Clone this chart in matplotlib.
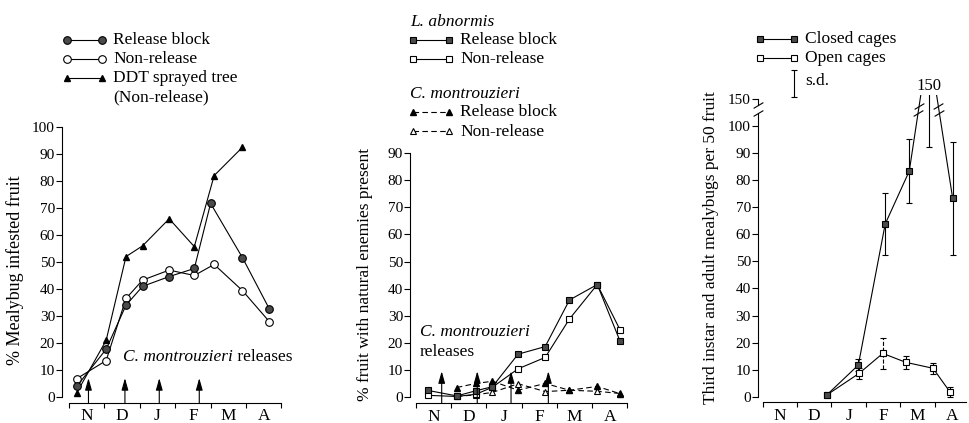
import numpy as np
import matplotlib.pyplot as plt

plt.rcParams['font.family'] = ['Liberation Serif', 'DejaVu Serif']
plt.rcParams['font.size'] = 12
plt.rcParams['axes.linewidth'] = 0.8

W, H = 969, 423
months = ['N', 'D', 'J', 'F', 'M', 'A']

# === panel 1: % mealybug infested fruit (x = months since 1 Nov) ===
p1_x = [0.22, 1.05, 1.61, 2.08, 2.83, 3.54, 4.00, 4.90, 5.66]
p1_x_non = [0.22, 1.05, 1.61, 2.08, 2.83, 3.54, 4.10, 4.90, 5.66]
p1_release = [4.0, 17.7, 34.0, 41.0, 44.6, 47.6, 71.7, 51.6, 32.6]
p1_nonrelease = [6.8, 13.5, 36.5, 43.3, 47.0, 45.0, 49.1, 39.4, 27.9]
p1_ddt_x = [0.22, 1.05, 1.61, 2.08, 2.83, 3.54, 4.10, 4.90]
p1_ddt = [1.6, 21.0, 52.0, 56.0, 66.0, 55.7, 82.0, 92.5]
p1_release_dates = [0.55, 1.58, 2.55, 3.68]

# === panel 2: % fruit with natural enemies ===
p2_x = [0.35, 1.16, 1.70, 2.17, 2.90, 3.67, 4.36, 5.15, 5.80]
p2_labn_rel = [2.4, 0.4, 2.3, 3.8, 15.8, 18.6, 35.8, 41.5, 20.5]
p2_labn_non = [0.6, 0.2, 1.0, 3.6, 10.4, 14.6, 28.8, 41.5, 24.7]
p2_cm_x = [1.16, 1.70, 2.17, 2.90, 3.67, 4.36, 5.15, 5.80]
p2_cm_rel = [3.5, 5.0, 5.8, 2.5, 5.0, 2.5, 3.9, 1.2]
p2_cm_non = [0.2, 0.8, 1.7, 4.9, 2.0, 2.5, 2.1, 1.3]
p2_release_dates = [0.73, 1.74, 2.70, 3.76]

# === panel 3: mealybugs per 50 fruit in cages ===
p3_closed_x = [1.86, 2.78, 3.56, 4.26, 4.82, 5.52]
p3_closed = [0.6, 11.7, 63.8, 83.4, 150.0, 73.3]
p3_closed_sd = [0, 2.1, 11.4, 11.8, 57.6, 21.0]
p3_open_x = [1.86, 2.80, 3.49, 4.16, 4.95, 5.45]
p3_open = [0.6, 8.6, 16.0, 12.7, 10.5, 1.6]
p3_open_sd = [0, 2.0, 5.6, 2.3, 2.1, 1.8]

FILL = '#4a4a4a'
LW = 0.8


def brk(v, k=0.61):
    # values above 100 are squeezed (broken axis)
    v = np.asarray(v, float)
    return np.where(v <= 100, v, 100 + (v - 100) * k)


fig = plt.figure(figsize=(W / 100, H / 100), dpi=100)

# overlay in pixel coords for legends and axis titles
ov = fig.add_axes([0, 0, 1, 1])
ov.set_xlim(0, W)
ov.set_ylim(H, 0)
ov.axis('off')


def panel(x0, pxm, y0, pyu, xlim, ylim, ymax_tick):
    left = x0 + xlim[0] * pxm
    right = x0 + xlim[1] * pxm
    top = y0 - ylim[1] * pyu
    bottom = y0 - ylim[0] * pyu
    ax = fig.add_axes([left / W, 1 - bottom / H, (right - left) / W, (bottom - top) / H])
    ax.set_xlim(xlim)
    ax.set_ylim(ylim)
    ax.patch.set_visible(False)
    for s in ['top', 'right']:
        ax.spines[s].set_visible(False)
    ax.spines['bottom'].set_bounds(0, min(6, xlim[1]))
    ax.spines['left'].set_bounds(0, ymax_tick)
    ax.set_xticks(range(7))
    ax.set_xticklabels([])
    ax.set_xticks(np.arange(6) + 0.5, minor=True)
    ax.set_xticklabels(months, minor=True)
    ax.tick_params(axis='x', which='major', direction='out', length=3.5, width=LW)
    ax.tick_params(axis='x', which='minor', length=0, pad=4, labelsize=12.5)
    ax.tick_params(axis='y', direction='out', length=4, width=LW, pad=1, labelsize=11)
    ax.set_yticks(np.arange(0, ymax_tick + 1, 10))
    return ax


def release_arrows(ax, xs, top):
    for x in xs:
        ax.annotate('', xy=(x, top), xytext=(x, ax.get_ylim()[0]),
                    arrowprops=dict(arrowstyle='-|>,head_length=0.6,head_width=0.17',
                                    color='k', lw=LW, shrinkA=0, shrinkB=0),
                    annotation_clip=False)


# ---------- panel 1 ----------
ax1 = panel(69, 35.4, 397, 2.7, (-0.2, 6.05), (-2.2, 101), 100)
ax1.plot(p1_ddt_x, p1_ddt, '-^', color='k', lw=LW, ms=5, mfc='k', clip_on=False)
ax1.plot(p1_x_non, p1_nonrelease, '-o', color='k', lw=LW, ms=5.5, mfc='white', mec='k', mew=0.8)
ax1.plot(p1_x, p1_release, '-o', color='k', lw=LW, ms=5.5, mfc=FILL, mec='k', mew=0.8)
release_arrows(ax1, p1_release_dates, 7)
t1 = ax1.text(1.53, 12, 'C. montrouzieri', style='italic', fontsize=12.5, va='bottom')
ax1.annotate(' releases', xy=(1, 0), xycoords=t1, va='bottom', fontsize=12.5)

# ---------- panel 2 ----------
ax2 = panel(416, 35.2, 397, 2.71, (-0.17, 6.05), (-2.3, 91), 90)
dash = (5, 3)
ax2.plot(p2_cm_x, p2_cm_non, '--^', dashes=dash, color='k', lw=LW, ms=5, mfc='white', mec='k', mew=0.8)
ax2.plot(p2_cm_x, p2_cm_rel, '--^', dashes=dash, color='k', lw=LW, ms=5, mfc='k')
ax2.plot(p2_x, p2_labn_non, '-s', color='k', lw=LW, ms=5, mfc='white', mec='k', mew=0.8)
ax2.plot(p2_x, p2_labn_rel, '-s', color='k', lw=LW, ms=5, mfc=FILL, mec='k', mew=0.8)
release_arrows(ax2, p2_release_dates, 9.5)
ax2.text(0.11, 24.1, 'C. montrouzieri', style='italic', fontsize=12.5, va='center')
ax2.text(0.11, 16.7, 'releases', fontsize=12.5, va='center')

# ---------- panel 3 (broken y axis) ----------
ax3 = panel(762.7, 35.0, 396.7, 2.706, (-0.14, 5.9), (-2.1, 111.5), 100)
ax3.spines['left'].set_visible(False)
ax3.set_yticks(list(range(0, 101, 10)) + [110])
ax3.set_yticklabels([str(v) for v in range(0, 101, 10)] + ['150'])
yt = ax3.get_yaxis_transform()
ax3.plot([0, 0], [0, 104.8], color='k', lw=LW, transform=yt, clip_on=False)
ax3.plot([0, 0], [107.8, 110], color='k', lw=LW, transform=yt, clip_on=False)
slash = dict(marker=[(-1, -0.6), (1, 0.6)], ms=7, mew=LW, ls='none', color='k', mec='k', clip_on=False)
ax3.plot([0, 0], [104.8, 107.8], transform=yt, **slash)

cy = brk(p3_closed)
csd = np.array(p3_closed_sd)
oy = brk(p3_open)
osd = np.array(p3_open_sd)

ax3.plot(p3_open_x, oy, '-s', color='k', lw=LW, ms=5, mfc='white', mec='k', mew=0.8, zorder=3)
ax3.plot(p3_closed_x, cy, '-s', color='k', lw=LW, ms=5, mfc=FILL, mec='k', mew=0.8, zorder=3)

m = csd > 0
cx = np.array(p3_closed_x)[m]
lo = cy[m] - brk(np.array(p3_closed)[m] - csd[m])
hi = brk(np.array(p3_closed)[m] + csd[m]) - cy[m]
ax3.errorbar(cx, cy[m], yerr=[lo, hi], fmt='none', ecolor='k', elinewidth=LW, capsize=2.2, capthick=LW)

m = osd > 0
ox = np.array(p3_open_x)[m]
eb = ax3.errorbar(ox, oy[m], yerr=osd[m], fmt='none', ecolor='k', elinewidth=LW, capsize=2.2, capthick=LW)
styles = ['--' if abs(x - 3.49) < 0.01 else '-' for x in ox]
eb[2][0].set_linestyles(styles)

# break marks on the lines climbing to the 150 peak
ipk = int(np.argmax(p3_closed))
for yv in (105, 107.5):
    xl = np.interp(yv, [cy[ipk - 1], cy[ipk]], [p3_closed_x[ipk - 1], p3_closed_x[ipk]])
    xr = np.interp(yv, [cy[ipk + 1], cy[ipk]], [p3_closed_x[ipk + 1], p3_closed_x[ipk]])
    ax3.plot([xl, xr], [yv, yv], **slash)
ax3.annotate('150', xy=(p3_closed_x[ipk], 111.5), xytext=(0, 1), textcoords='offset points',
             ha='center', va='bottom', fontsize=12, annotation_clip=False)

# ---------- legends (pixel coords) ----------
fs = 12.5
ov.plot([67, 102], [40, 40], '-o', color='k', lw=LW, ms=5.5, mfc=FILL, mec='k', mew=0.8)
ov.plot([67, 102], [59, 59], '-o', color='k', lw=LW, ms=5.5, mfc='white', mec='k', mew=0.8)
ov.plot([67, 102], [78, 78], '-^', color='k', lw=LW, ms=5, mfc='k')
ov.text(113, 40, 'Release block', va='center', fontsize=fs)
ov.text(113, 59, 'Non-release', va='center', fontsize=fs)
ov.text(113, 78, 'DDT sprayed tree', va='center', fontsize=fs)
ov.text(113, 97, '(Non-release)', va='center', fontsize=fs)

ov.text(410, 22, 'L. abnormis', style='italic', va='center', fontsize=fs)
ov.plot([413, 449], [40, 40], '-s', color='k', lw=LW, ms=5, mfc=FILL, mec='k', mew=0.8)
ov.plot([413, 449], [59, 59], '-s', color='k', lw=LW, ms=5, mfc='white', mec='k', mew=0.8)
ov.text(460, 40, 'Release block', va='center', fontsize=fs)
ov.text(460, 59, 'Non-release', va='center', fontsize=fs)
ov.text(410, 94, 'C. montrouzieri', style='italic', va='center', fontsize=fs)
ov.plot([413, 449], [112.5, 112.5], '--^', dashes=dash, color='k', lw=LW, ms=5, mfc='k')
ov.plot([413, 449], [131.5, 131.5], '--^', dashes=dash, color='k', lw=LW, ms=5, mfc='white', mec='k', mew=0.8)
ov.text(460, 112.5, 'Release block', va='center', fontsize=fs)
ov.text(460, 131.5, 'Non-release', va='center', fontsize=fs)

ov.plot([760, 794], [39, 39], '-s', color='k', lw=LW, ms=5, mfc=FILL, mec='k', mew=0.8)
ov.plot([760, 794], [58.5, 58.5], '-s', color='k', lw=LW, ms=5, mfc='white', mec='k', mew=0.8)
ov.text(805, 39, 'Closed cages', va='center', fontsize=fs)
ov.text(805, 58.5, 'Open cages', va='center', fontsize=fs)
ov.errorbar([794.3], [83.3], yerr=[13.3], fmt='none', ecolor='k', elinewidth=LW, capsize=2.5, capthick=LW)
ov.text(805, 81, 's.d.', va='center', fontsize=fs)

# axis titles
ov.text(15, 270, '% Mealybug infested fruit', rotation=90, ha='center', va='center', fontsize=13)
ov.text(365, 274, '% fruit with natural enemies present', rotation=90, ha='center', va='center', fontsize=12.5)
ov.text(711, 248, 'Third instar and adult mealybugs per 50 fruit', rotation=90, ha='center', va='center', fontsize=12.5)

fig.savefig('out.png', dpi=100, facecolor='white')
